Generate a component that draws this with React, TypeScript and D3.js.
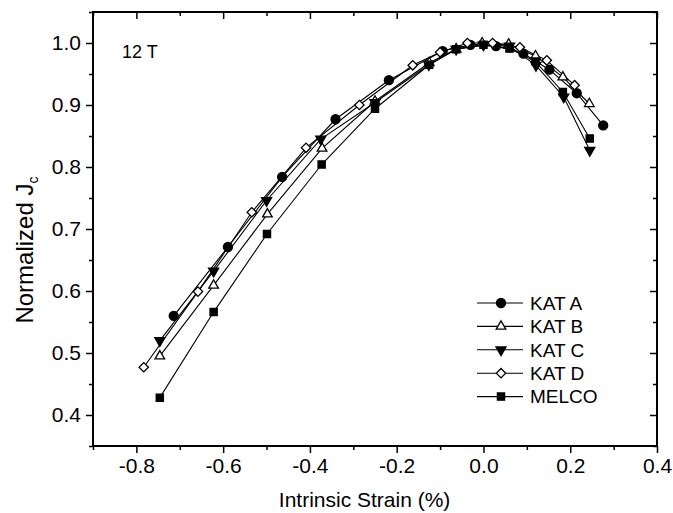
import { useEffect, useRef } from 'react';
import * as d3 from 'd3';

// strain (%) and normalized Jc
const katAStrain = [-0.714, -0.589, -0.464, -0.341, -0.218, -0.094, -0.03, 0.029, 0.092, 0.152, 0.215, 0.276];
const katAJc = [0.56, 0.671, 0.784, 0.877, 0.94, 0.987, 0.997, 0.995, 0.983, 0.957, 0.919, 0.867];

const katBStrain = [-0.746, -0.622, -0.498, -0.372, -0.25, -0.125, -0.063, -0.003, 0.058, 0.12, 0.183, 0.244];
const katBJc = [0.495, 0.609, 0.724, 0.83, 0.906, 0.968, 0.99, 1.0, 0.998, 0.979, 0.945, 0.902];

const katCStrain = [-0.746, -0.622, -0.5, -0.375, -0.25, -0.126, -0.063, 0.0, 0.06, 0.121, 0.185, 0.245];
const katCJc = [0.52, 0.632, 0.746, 0.845, 0.904, 0.965, 0.99, 0.997, 0.995, 0.964, 0.913, 0.827];

const katDStrain = [-0.783, -0.658, -0.534, -0.409, -0.286, -0.163, -0.1, -0.037, 0.021, 0.084, 0.146, 0.21];
const katDJc = [0.477, 0.599, 0.727, 0.831, 0.9, 0.964, 0.985, 1.0, 1.0, 0.993, 0.972, 0.932];

const melcoStrain = [-0.746, -0.622, -0.499, -0.373, -0.25, -0.125, -0.063, 0.0, 0.06, 0.12, 0.183, 0.245];
const melcoJc = [0.428, 0.566, 0.692, 0.804, 0.894, 0.965, 0.99, 0.997, 0.991, 0.97, 0.921, 0.846];

const seriesNames = ['KAT A', 'KAT B', 'KAT C', 'KAT D', 'MELCO'];
const xTicks = [-0.8, -0.6, -0.4, -0.2, 0.0, 0.2, 0.4];
const yTicks = [0.4, 0.5, 0.6, 0.7, 0.8, 0.9, 1.0];

const FONT = 'Arial, "Liberation Sans", sans-serif';
// plain hyphen instead of d3's unicode minus
const fmt = (d) => d3.format('.1f')(d).replace('\u2212', '-');

const App = () => {
  const svgRef = useRef<SVGSVGElement>(null);

  useEffect(() => {
    const width = 673;
    const height = 513;
    const margin = { top: 12, right: 16, bottom: 67, left: 93 };
    const innerWidth = width - margin.left - margin.right;
    const innerHeight = height - margin.top - margin.bottom;

    const svg = d3.select(svgRef.current);
    svg.selectAll('*').remove();
    svg.attr('width', width).attr('height', height);

    const chart = svg.append('g').attr('transform', `translate(${margin.left},${margin.top})`);

    const x = d3.scaleLinear().domain([-0.9, 0.4]).range([0, innerWidth]);
    const y = d3.scaleLinear().domain([0.35, 1.05]).range([innerHeight, 0]);

    const xMinor = d3.range(-9, 5).map(i => i / 10).filter(v => !xTicks.some(t => Math.abs(t - v) < 1e-6));
    const yMinor = d3.range(7, 22).map(i => i / 20).filter(v => !yTicks.some(t => Math.abs(t - v) < 1e-6));

    const styleAxis = (g) => {
      g.select('.domain').remove();
      g.selectAll('line').attr('stroke', '#000').attr('stroke-width', 1.5);
      g.selectAll('text').style('font-family', FONT).style('font-size', '21px').attr('fill', '#000');
    };

    // bottom axis
    chart.append('g')
      .attr('transform', `translate(0,${innerHeight})`)
      .call(d3.axisBottom(x).tickValues(xTicks).tickFormat(fmt).tickSizeInner(7).tickPadding(5))
      .call(styleAxis);
    chart.append('g')
      .attr('transform', `translate(0,${innerHeight})`)
      .call(d3.axisBottom(x).tickValues(xMinor).tickFormat(() => '').tickSizeInner(4))
      .call(styleAxis);

    // top axis, ticks inward
    chart.append('g')
      .call(d3.axisBottom(x).tickValues(xTicks).tickFormat(() => '').tickSizeInner(7))
      .call(styleAxis);
    chart.append('g')
      .call(d3.axisBottom(x).tickValues(xMinor).tickFormat(() => '').tickSizeInner(4))
      .call(styleAxis);

    // left axis
    chart.append('g')
      .call(d3.axisLeft(y).tickValues(yTicks).tickFormat(fmt).tickSizeInner(7).tickPadding(5))
      .call(styleAxis);
    chart.append('g')
      .call(d3.axisLeft(y).tickValues(yMinor).tickFormat(() => '').tickSizeInner(4))
      .call(styleAxis);

    // right axis, ticks inward
    chart.append('g')
      .attr('transform', `translate(${innerWidth},0)`)
      .call(d3.axisLeft(y).tickValues(yTicks).tickFormat(() => '').tickSizeInner(7))
      .call(styleAxis);
    chart.append('g')
      .attr('transform', `translate(${innerWidth},0)`)
      .call(d3.axisLeft(y).tickValues(yMinor).tickFormat(() => '').tickSizeInner(4))
      .call(styleAxis);

    // frame
    chart.append('rect')
      .attr('width', innerWidth)
      .attr('height', innerHeight)
      .attr('fill', 'none')
      .attr('stroke', '#000')
      .attr('stroke-width', 2);

    const series = [
      { name: seriesNames[0], xs: katAStrain, ys: katAJc, type: d3.symbolCircle, size: 64, rotate: 0, fill: '#000' },
      { name: seriesNames[1], xs: katBStrain, ys: katBJc, type: d3.symbolTriangle, size: 40, rotate: 0, fill: '#fff' },
      { name: seriesNames[2], xs: katCStrain, ys: katCJc, type: d3.symbolTriangle, size: 44, rotate: 180, fill: '#000' },
      { name: seriesNames[3], xs: katDStrain, ys: katDJc, type: d3.symbolSquare, size: 44, rotate: 45, fill: '#fff' },
      { name: seriesNames[4], xs: melcoStrain, ys: melcoJc, type: d3.symbolSquare, size: 52, rotate: 0, fill: '#000' },
    ];

    const line = d3.line().x(d => x(d[0])).y(d => y(d[1]));

    series.forEach(s => {
      const pts = s.xs.map((v, i) => [v, s.ys[i]]);
      chart.append('path')
        .datum(pts)
        .attr('d', line)
        .attr('fill', 'none')
        .attr('stroke', '#000')
        .attr('stroke-width', 1.1);
    });

    series.forEach(s => {
      const pts = s.xs.map((v, i) => [v, s.ys[i]]);
      chart.append('g')
        .selectAll('path')
        .data(pts)
        .enter()
        .append('path')
        .attr('d', d3.symbol().type(s.type).size(s.size))
        .attr('transform', d => `translate(${x(d[0])},${y(d[1])}) rotate(${s.rotate})`)
        .attr('fill', s.fill)
        .attr('stroke', '#000')
        .attr('stroke-width', 1.3);
    });

    // legend
    const legend = chart.append('g').attr('transform', `translate(${innerWidth - 180},${innerHeight - 143})`);
    series.forEach((s, i) => {
      const row = legend.append('g').attr('transform', `translate(0,${i * 23.4})`);
      row.append('line')
        .attr('x1', 0).attr('x2', 46)
        .attr('stroke', '#000').attr('stroke-width', 1.1);
      row.append('path')
        .attr('d', d3.symbol().type(s.type).size(s.size)())
        .attr('transform', `translate(24,0) rotate(${s.rotate})`)
        .attr('fill', s.fill)
        .attr('stroke', '#000')
        .attr('stroke-width', 1.3);
      row.append('text')
        .attr('x', 53)
        .attr('dy', '0.36em')
        .style('font-family', FONT)
        .style('font-size', '19px')
        .text(s.name);
    });

    // field label
    chart.append('text')
      .attr('x', 29)
      .attr('y', 46)
      .style('font-family', FONT)
      .style('font-size', '18px')
      .text('12 T');

    // axis titles
    svg.append('text')
      .attr('x', margin.left + x(-0.274))
      .attr('y', 507)
      .attr('text-anchor', 'middle')
      .style('font-family', FONT)
      .style('font-size', '21px')
      .text('Intrinsic Strain (%)');

    const yTitle = svg.append('text')
      .attr('transform', `translate(33,${margin.top + y(0.666)}) rotate(-90)`)
      .attr('text-anchor', 'middle')
      .style('font-family', FONT)
      .style('font-size', '24px');
    yTitle.append('tspan').text('Normalized J');
    yTitle.append('tspan').attr('dy', 5).style('font-size', '14px').text('c');
  }, []);

  return <svg ref={svgRef} style={{ position: 'absolute', left: 0, top: 0, background: '#fff' }}></svg>;
};

export default App;
